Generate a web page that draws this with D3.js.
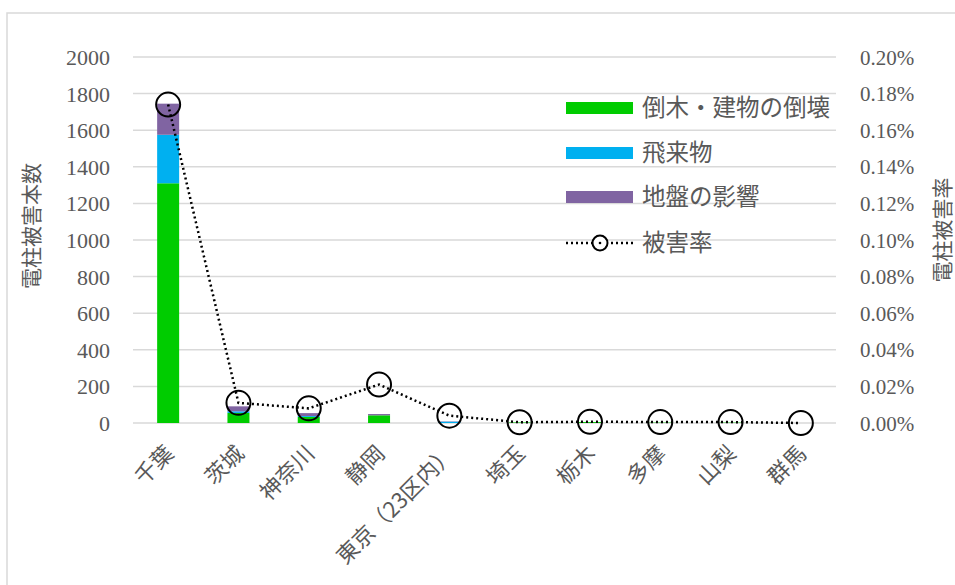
<!DOCTYPE html>
<html>
<head>
<meta charset="utf-8">
<script src="https://cdn.jsdelivr.net/npm/d3@7"></script>
<style>
  html, body { margin: 0; padding: 0; background: #fff; }
  svg { display: block; }
  .num { font-family: "Liberation Serif", "DejaVu Serif", "Times New Roman", serif; }
</style>
</head>
<body>
<svg id="chart" width="955" height="585"></svg>
<script>
// Utility pole damage by region: stacked counts (left axis) and damage rate (right axis)
const categories = ['千葉', '茨城', '神奈川', '静岡', '東京（23区内）', '埼玉', '栃木', '多摩', '山梨', '群馬'];
const fallenTrees = [1310, 55, 33, 42, 0, 3, 5, 2, 2, 0];   // 倒木・建物の倒壊
const flyingDebris = [265, 9, 5, 0, 7, 0, 0, 0, 0, 0];       // 飛来物
const groundEffect = [170, 27, 16, 7, 2, 0, 0, 0, 0, 0];     // 地盤の影響
const damageRate = [0.174, 0.011, 0.008, 0.021, 0.004, 0.0004, 0.0007, 0.0005, 0.0005, 0]; // 被害率 (%)
const leftTicks = [0, 200, 400, 600, 800, 1000, 1200, 1400, 1600, 1800, 2000];
const rightTicks = [0, 0.02, 0.04, 0.06, 0.08, 0.10, 0.12, 0.14, 0.16, 0.18, 0.20];

const seriesNames = ['倒木・建物の倒壊', '飛来物', '地盤の影響'];
const seriesColors = ['#00cc00', '#00b0f0', '#8064a2'];
const textColor = '#595959';
const gridColor = '#d9d9d9';
const cjkFont = '"Noto Sans CJK JP", "Noto Sans", sans-serif';

const svg = d3.select('#chart');

// outer chart frame
svg.append('rect')
  .attr('x', 7).attr('y', 13).attr('width', 960).attr('height', 600)
  .attr('fill', 'none').attr('stroke', gridColor).attr('stroke-width', 1.5);

const plot = { left: 133, right: 836, top: 57, bottom: 423 };

const x = d3.scaleBand().domain(categories).range([plot.left, plot.right]).padding(0);
const yL = d3.scaleLinear().domain([0, 2000]).range([plot.bottom, plot.top]);
const yR = d3.scaleLinear().domain([0, 0.20]).range([plot.bottom, plot.top]);

// gridlines
svg.append('g').selectAll('line').data(leftTicks).join('line')
  .attr('x1', plot.left).attr('x2', plot.right)
  .attr('y1', d => yL(d)).attr('y2', d => yL(d))
  .attr('stroke', gridColor).attr('stroke-width', 1.5);

// left axis labels
const leftAxis = d3.axisLeft(yL).tickValues(leftTicks).tickSize(0).tickPadding(0).tickFormat(d3.format('d'));
const gl = svg.append('g').attr('transform', 'translate(110,0)').call(leftAxis);
gl.select('.domain').remove();
gl.attr('font-family', null);
gl.selectAll('text').attr('class', 'num').attr('fill', textColor).attr('font-size', 22).attr('dy', '0.34em');

// right axis labels
const rightAxis = d3.axisRight(yR).tickValues(rightTicks).tickSize(0).tickPadding(0).tickFormat(d => d3.format('.2f')(d) + '%');
const gr = svg.append('g').attr('transform', 'translate(860,0)').call(rightAxis);
gr.select('.domain').remove();
gr.attr('font-family', null);
gr.selectAll('text').attr('class', 'num').attr('fill', textColor).attr('font-size', 21).attr('dy', '0.34em');

// stacked bars
const rows = categories.map((c, i) => ({ cat: c, s0: fallenTrees[i], s1: flyingDebris[i], s2: groundEffect[i] }));
const stack = d3.stack().keys(['s0', 's1', 's2'])(rows);
const barW = 22;
svg.append('g').selectAll('g').data(stack).join('g')
  .attr('fill', (d, i) => seriesColors[i])
  .selectAll('rect').data(d => d).join('rect')
  .attr('x', d => x(d.data.cat) + x.bandwidth() / 2 - barW / 2)
  .attr('width', barW)
  .attr('y', d => yL(d[1]))
  .attr('height', d => yL(d[0]) - yL(d[1]));

// damage rate line with open circle markers
const ratePts = categories.map((c, i) => [x(c) + x.bandwidth() / 2, yR(damageRate[i])]);
svg.append('path')
  .attr('d', d3.line()(ratePts))
  .attr('fill', 'none').attr('stroke', '#000').attr('stroke-width', 2.5)
  .attr('stroke-dasharray', '2 3');
svg.append('g').selectAll('circle').data(ratePts).join('circle')
  .attr('cx', d => d[0]).attr('cy', d => d[1]).attr('r', 12)
  .attr('fill', 'none').attr('stroke', '#000').attr('stroke-width', 2);

// category labels, rotated
svg.append('g').selectAll('text').data(categories).join('text')
  .attr('transform', d => `translate(${x(d) + x.bandwidth() / 2 + 7},${455}) rotate(-45)`)
  .attr('text-anchor', 'end')
  .attr('fill', textColor).attr('font-family', cjkFont).attr('font-size', 22)
  .text(d => d);

// axis titles
svg.append('text')
  .attr('transform', 'translate(32,226) rotate(-90)')
  .attr('text-anchor', 'middle').attr('dy', '0.35em')
  .attr('fill', textColor).attr('font-family', cjkFont).attr('font-size', 21)
  .text('電柱被害本数');
svg.append('text')
  .attr('transform', 'translate(943,230) rotate(-90)')
  .attr('text-anchor', 'middle').attr('dy', '0.35em')
  .attr('fill', textColor).attr('font-family', cjkFont).attr('font-size', 21)
  .text('電柱被害率');

// legend
const legend = svg.append('g');
const legY = [108, 153, 197, 243];
seriesNames.forEach((name, i) => {
  legend.append('rect').attr('x', 566).attr('y', legY[i] - 6).attr('width', 67).attr('height', 12).attr('fill', seriesColors[i]);
  legend.append('text').attr('x', 642).attr('y', legY[i]).attr('dy', '0.36em')
    .attr('fill', textColor).attr('font-family', cjkFont).attr('font-size', 23.5).text(name);
});
legend.append('line').attr('x1', 566).attr('x2', 633).attr('y1', legY[3]).attr('y2', legY[3])
  .attr('stroke', '#000').attr('stroke-width', 2.5).attr('stroke-dasharray', '2 3');
legend.append('circle').attr('cx', 600).attr('cy', legY[3]).attr('r', 7.5)
  .attr('fill', '#fff').attr('stroke', '#000').attr('stroke-width', 2);
legend.append('circle').attr('cx', 600).attr('cy', legY[3]).attr('r', 1.3).attr('fill', '#000');
legend.append('text').attr('x', 642).attr('y', legY[3]).attr('dy', '0.36em')
  .attr('fill', textColor).attr('font-family', cjkFont).attr('font-size', 23.5).text('被害率');
</script>
</body>
</html>
